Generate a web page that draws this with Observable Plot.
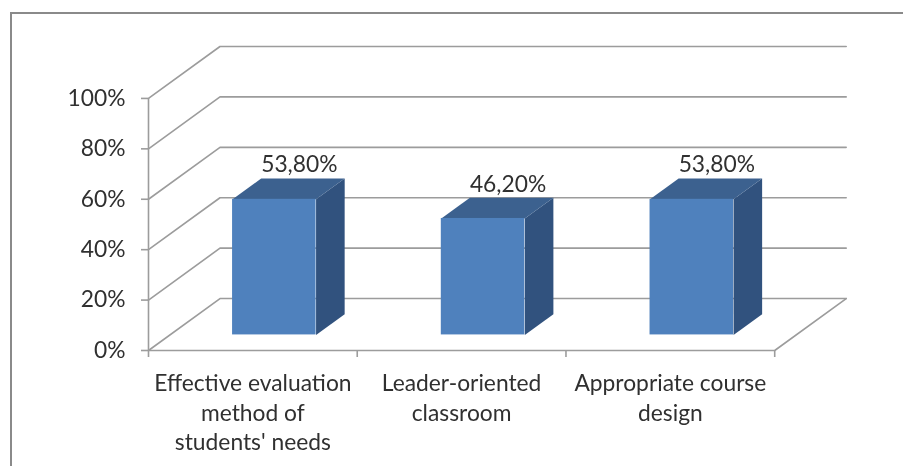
<!DOCTYPE html>
<html>
<head>
<meta charset="utf-8">
<script src="https://cdn.jsdelivr.net/npm/d3@7"></script>
<script src="https://cdn.jsdelivr.net/npm/@observablehq/plot@0.6"></script>
<style>
html,body{margin:0;padding:0;background:#fff;overflow:hidden}
#frame{position:absolute;left:10px;top:12px;right:0;bottom:-10px;border-left:2px solid #8a8a8a;border-top:2px solid #8a8a8a}
#chart{position:absolute;left:0;top:0;filter:blur(0.55px)}
#chart svg{background:transparent}
</style>
</head>
<body>
<div id="frame"></div>
<div id="chart"></div>
<script>
const categories = ["Effective evaluation\nmethod of\nstudents' needs", "Leader-oriented\nclassroom", "Appropriate course\ndesign"];
const values = [53.8, 46.2, 53.8];
const valueLabels = ["53,80%", "46,20%", "53,80%"];
const yTicks = [0, 20, 40, 60, 80, 100];
const xTicks = [0, 1, 2, 3];

// Oblique depth: one full depth unit, expressed in data units
const depthX = 0.3425, depthY = 20.6;
const zNear = 0.3, zFar = 0.7, barHalf = 0.2;
const px = (x, z) => x + z * depthX;
const py = (v, z) => v + z * depthY;

const gridPaths = yTicks.flatMap(v => [
  {k: v, x: 0, y: v},
  {k: v, x: px(0, 1), y: py(v, 1)},
  {k: v, x: px(3, 1), y: py(v, 1)}
]);
const floorEdge = [{x: 3, y: 0}, {x: px(3, 1), y: py(0, 1)}];
const bars = categories.map((c, i) => ({i, c, v: values[i], l: i + 0.5 - barHalf, r: i + 0.5 + barHalf, label: valueLabels[i]}));
const sideFaces = bars.flatMap(b => [
  [b.r, 0, zNear], [b.r, 0, zFar], [b.r, b.v, zFar], [b.r, b.v, zNear]
].map(([x, v, z]) => ({i: b.i, x: px(x, z), y: py(v, z)})));
const topFaces = bars.flatMap(b => [
  [b.l, zNear], [b.r, zNear], [b.r, zFar], [b.l, zFar]
].map(([x, z]) => ({i: b.i, x: px(x, z), y: py(b.v, z)})));

const gridColor = "#9c9c9c";
const font = "Lato, 'Open Sans', sans-serif";
const fs = 22.8;

const plot = Plot.plot({
  width: 903, height: 466,
  marginLeft: 148, marginRight: 57.3, marginTop: 46, marginBottom: 116,
  style: {fontFamily: font, background: "transparent", overflow: "visible"},
  x: {domain: [0, 3 + depthX], label: null},
  y: {domain: [0, 100 + depthY], label: null},
  marks: [
    Plot.line(gridPaths, {x: "x", y: "y", z: "k", stroke: gridColor, strokeWidth: 1.6}),
    Plot.line(floorEdge, {x: "x", y: "y", stroke: gridColor, strokeWidth: 1.6}),
    Plot.axisY({ticks: yTicks, tickFormat: d => d + "%", tickSize: 7, tickPadding: 16, fontSize: fs, stroke: gridColor, strokeWidth: 1.6, fill: "#303030", label: null}),
    Plot.ruleX([0], {y1: 0, y2: 100, stroke: gridColor, strokeWidth: 1.6}),
    Plot.axisX({ticks: xTicks, tickFormat: () => "", tickSize: 7, stroke: gridColor, strokeWidth: 1.6, label: null}),
    Plot.ruleY([0], {x1: 0, x2: 3, stroke: gridColor, strokeWidth: 1.6}),
    Plot.line(sideFaces, {x: "x", y: "y", z: "i", fill: "#31527e", stroke: "none"}),
    Plot.line(topFaces, {x: "x", y: "y", z: "i", fill: "#3c618f", stroke: "none"}),
    Plot.rect(bars, {x1: d => px(d.l, zNear), x2: d => px(d.r, zNear), y1: () => py(0, zNear), y2: d => py(d.v, zNear), fill: "#4f81bd"}),
    Plot.text(bars, {x: d => px(d.i + 0.5, 0.65), y: d => py(d.v, 0.65), text: "label", dy: -16, fontSize: fs, fill: "#303030"}),
    Plot.text(bars, {x: d => d.i + 0.5, y: () => 0, text: "c", lineAnchor: "top", dy: 20, lineHeight: 1.29, fontSize: fs, fill: "#303030"})
  ]
});
document.getElementById("chart").appendChild(plot);
</script>
</body>
</html>
